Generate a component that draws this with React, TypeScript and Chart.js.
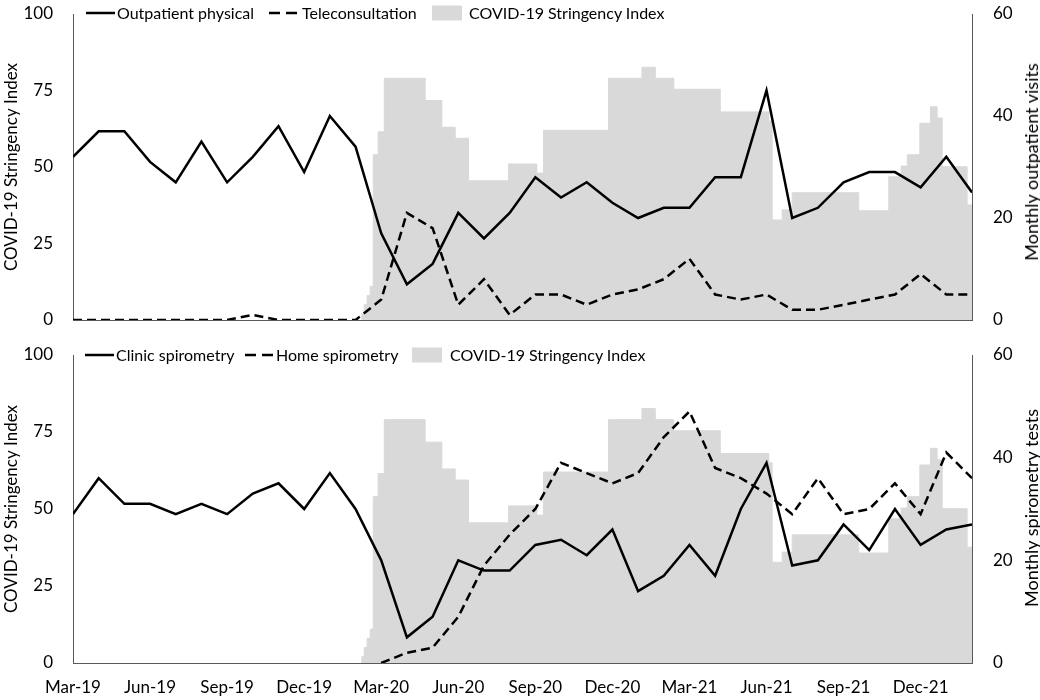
import { useEffect, useRef } from "react"
import { Chart, registerables } from "chart.js"

Chart.register(...registerables)

// tick labels every 3 months, first point is Mar-19
const monthLabels = ["Mar-19", "Jun-19", "Sep-19", "Dec-19", "Mar-20", "Jun-20", "Sep-20", "Dec-20", "Mar-21", "Jun-21", "Sep-21", "Dec-21"]

// monthly values Mar-19 .. Feb-22 (right axis)
const outpatientPhysical = [32, 37, 37, 31, 27, 35, 27, 32, 38, 29, 40, 34, 17, 7, 11, 21, 16, 21, 28, 24, 27, 23, 20, 22, 22, 28, 28, 45, 20, 22, 27, 29, 29, 26, 32, 25]
const teleconsultation = [0, 0, 0, 0, 0, 0, 0, 1, 0, 0, 0, 0, 4, 21, 18, 3, 8, 1, 5, 5, 3, 5, 6, 8, 12, 5, 4, 5, 2, 2, 3, 4, 5, 9, 5, 5]
const clinicSpirometry = [29, 36, 31, 31, 29, 31, 29, 33, 35, 30, 37, 30, 20, 5, 9, 20, 18, 18, 23, 24, 21, 26, 14, 17, 23, 17, 30, 39, 19, 20, 27, 22, 30, 23, 26, 27]
const homeSpirometry = [null, null, null, null, null, null, null, null, null, null, null, null, 0, 2, 3, 9, 19, 25, 30, 39, 37, 35, 37, 44, 49, 38, 36, 33, 29, 36, 29, 30, 35, 29, 41, 36]

// stringency index (left axis): months since Mar-19 where the index changes, and the new value
const stringencyMonth = [11.22, 11.34, 11.45, 11.57, 11.69, 11.88, 12.12, 13.71, 14.36, 14.88, 15.4, 16.96, 18.06, 18.32, 20.85, 22.15, 22.67, 23.39, 25.2, 27.09, 27.22, 27.61, 28.0, 30.59, 31.76, 32.24, 32.48, 32.97, 33.38, 33.64, 33.84, 34.81, 35]
const stringencyValue = [2, 5, 8, 11, 54, 61.5, 79, 71.7, 63, 59.4, 45.5, 51, 48, 62, 79, 82.6, 79, 75.4, 68, 65, 32.7, 36, 41.6, 35.7, 46.8, 50.3, 54, 64.3, 69.7, 66, 50.1, 37.6, 37.6]

const FONT = "Lato, 'Open Sans', sans-serif"
const WIDTH = 1040
const PLOT_LEFT = 73
const PLOT_RIGHT = 972

interface PanelProps {
  top: number
  height: number
  plotTop: number
  plotBottom: number
  solid: (number | null)[]
  dashed: (number | null)[]
  solidLabel: string
  dashedLabel: string
  rightTitle: string
  rightTitleY: number
  showMonths: boolean
  legend: { solid: number; solidText: number; dashed: number; dashedText: number; box: number; boxText: number; y: number }
}

function toPoints(values: (number | null)[]) {
  return values
    .map((v, i) => ({ x: i, y: v }))
    .filter((p) => p.y !== null)
}

function Panel(props: PanelProps) {
  const chartRef = useRef<HTMLCanvasElement>(null)

  useEffect(() => {
    if (!chartRef.current) return
    const tickFont = { family: FONT, size: 17 }

    // keep the plot area where we want it: tick label padding must not push it in
    const noPad = (scale: any) => {
      scale.paddingTop = 0
      scale.paddingBottom = 0
    }

    const chart = new Chart(chartRef.current, {
      type: "line",
      data: {
        datasets: [
          {
            label: props.solidLabel,
            data: toPoints(props.solid),
            borderColor: "#000",
            borderWidth: 2.5,
            pointRadius: 0,
            yAxisID: "y1",
            order: 1,
          },
          {
            label: props.dashedLabel,
            data: toPoints(props.dashed),
            borderColor: "#000",
            borderWidth: 2.5,
            borderDash: [9, 5],
            pointRadius: 0,
            yAxisID: "y1",
            order: 2,
          },
          {
            label: "COVID-19 Stringency Index",
            data: stringencyMonth.map((m, i) => ({ x: m, y: stringencyValue[i] })),
            stepped: true,
            fill: "origin",
            backgroundColor: "#d9d9d9",
            borderColor: "#d9d9d9",
            borderWidth: 1,
            pointRadius: 0,
            yAxisID: "y",
            order: 3,
          },
        ],
      },
      options: {
        responsive: false,
        animation: false,
        layout: { padding: { top: props.plotTop, left: 0, right: 0, bottom: 0 } },
        plugins: {
          legend: { display: false },
          tooltip: { enabled: false },
        },
        scales: {
          x: {
            type: "linear",
            min: 0,
            max: 35,
            grid: { display: false, drawTicks: false },
            border: { display: true, color: "#595959", width: 1 },
            ticks: {
              display: props.showMonths,
              padding: 14,
              font: tickFont,
              color: "#000",
              autoSkip: false,
              maxRotation: 0,
              callback: (v) => monthLabels[Number(v) / 3] ?? "",
            },
            afterBuildTicks: (scale) => {
              scale.ticks = monthLabels.map((_, i) => ({ value: i * 3 }))
            },
            afterFit: (scale) => {
              scale.height = props.height - props.plotBottom
            },
          },
          y: {
            position: "left",
            min: 0,
            max: 100,
            grid: { display: false, drawTicks: false },
            border: { display: true, color: "#595959", width: 1 },
            ticks: { stepSize: 25, padding: 20, font: tickFont, color: "#000" },
            title: {
              display: true,
              text: "COVID-19 Stringency Index",
              font: { family: FONT, size: 17 },
              color: "#000",
              padding: { top: 1, bottom: 0 },
            },
            afterFit: (scale) => {
              scale.width = PLOT_LEFT
              noPad(scale)
            },
          },
          y1: {
            position: "right",
            min: 0,
            max: 60,
            grid: { display: false, drawTicks: false },
            border: { display: true, color: "#595959", width: 1 },
            ticks: { stepSize: 20, padding: 21, font: tickFont, color: "#000" },
            afterFit: (scale) => {
              scale.width = WIDTH - PLOT_RIGHT
              noPad(scale)
            },
          },
        },
      },
    })

    return () => {
      chart.destroy()
    }
  }, [])

  const lg = props.legend
  const textStyle = { position: "absolute" as const, top: lg.y - 10, fontSize: 16, lineHeight: "20px", whiteSpace: "nowrap" as const }

  return (
    <div style={{ position: "absolute", left: 0, top: props.top, width: WIDTH, height: props.height }}>
      <canvas ref={chartRef} width={WIDTH} height={props.height} />
      <svg style={{ position: "absolute", left: 0, top: 0 }} width={WIDTH} height={40}>
        <line x1={lg.solid} x2={lg.solid + 29} y1={lg.y} y2={lg.y} stroke="#000" strokeWidth={2.5} />
        <line x1={lg.dashed} x2={lg.dashed + 28} y1={lg.y} y2={lg.y} stroke="#000" strokeWidth={2.5} strokeDasharray="11 6" />
        <rect x={lg.box} y={lg.y - 7.5} width={30} height={15} fill="#d9d9d9" />
      </svg>
      <div style={{ ...textStyle, left: lg.solidText }}>{props.solidLabel}</div>
      <div style={{ ...textStyle, left: lg.dashedText }}>{props.dashedLabel}</div>
      <div style={{ ...textStyle, left: lg.boxText }}>COVID-19 Stringency Index</div>
      <div
        style={{
          position: "absolute",
          left: 1031,
          top: props.rightTitleY,
          transform: "translate(-50%, -50%) rotate(-90deg)",
          fontSize: 18,
          lineHeight: "20px",
          whiteSpace: "nowrap",
        }}
      >
        {props.rightTitle}
      </div>
    </div>
  )
}

export default function App() {
  return (
    <div style={{ position: "absolute", left: 0, top: 0, width: WIDTH, height: 700, background: "#fff", fontFamily: FONT, color: "#000" }}>
      <Panel
        top={0}
        height={338}
        plotTop={14}
        plotBottom={320}
        solid={outpatientPhysical}
        dashed={teleconsultation}
        solidLabel="Outpatient physical"
        dashedLabel="Teleconsultation"
        rightTitle="Monthly outpatient visits"
        rightTitleY={162}
        showMonths={false}
        legend={{ solid: 86, solidText: 117, dashed: 269, dashedText: 302, box: 432, boxText: 469, y: 13 }}
      />
      <Panel
        top={338}
        height={362}
        plotTop={17}
        plotBottom={325}
        solid={clinicSpirometry}
        dashed={homeSpirometry}
        solidLabel="Clinic spirometry"
        dashedLabel="Home spirometry"
        rightTitle="Monthly spirometry tests"
        rightTitleY={170}
        showMonths={true}
        legend={{ solid: 85, solidText: 116, dashed: 245, dashedText: 276, box: 412, boxText: 450, y: 17 }}
      />
    </div>
  )
}
